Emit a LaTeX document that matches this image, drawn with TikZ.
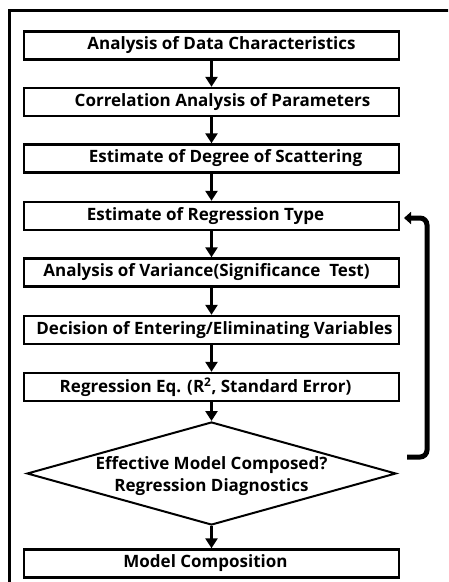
\documentclass[tikz,border=0pt]{standalone}
\usepackage{fontspec}
\setmainfont{Open Sans}
\usetikzlibrary{shapes.geometric,arrows.meta}
\newcommand\nudge[2]{\hspace*{#1}#2\hspace*{-#1}}

\begin{document}
\begin{tikzpicture}[x=1pt, y=-1pt,
        font=\fontsize{17}{22}\selectfont\bfseries,
        stepbox/.style={draw, line width=2.4pt, minimum width=375pt,
            minimum height=28pt, inner sep=0pt},
        decision/.style={draw, diamond, line width=2pt, minimum width=369pt,
            minimum height=103pt, inner sep=0pt},
        flow/.style={line width=3pt, -{Triangle[width=12pt,length=10pt]}},
        back/.style={line width=5pt, rounded corners=7pt,
            -{Triangle[width=12pt,length=7pt]}}]
        \useasboundingbox (0,0) rectangle (448,582);
        \clip (0,0) rectangle (448,582);
        \fill[white] (0,0) rectangle (448,582);
        % outer frame, cut off at right and bottom
        \draw[line width=3pt] (9,600) -- (9,10) -- (470,10);

        \node[stepbox] (data) at (211.5,45.5) {\nudge{10pt}{Analysis of Data Characteristics}};
        \node[stepbox] (corr) at (211.5,102) {\nudge{11pt}{Correlation Analysis of Parameters}};
        \node[stepbox] (scat) at (211.5,158.5) {\nudge{14pt}{Estimate of Degree of Scattering}};
        \node[stepbox] (type) at (211.5,216) {\nudge{-6pt}{Estimate of Regression Type}};
        \node[stepbox] (anova) at (211.5,272.5) {\nudge{-5pt}{Analysis of Variance(Significance~~Test)}};
        \node[stepbox] (vars) at (211.5,330) {\nudge{3pt}{Decision of Entering/Eliminating Variables}};
        \node[stepbox] (eq) at (211.5,387) {\nudge{-6pt}{Regression Eq. (R\textsuperscript{2}, Standard Error)}};
        \node[decision] (diag) at (211.5,473.5) {};
        \node[align=center] (diagtxt) at (211.5,476) {Effective Model Composed?\\Regression Diagnostics};
        \node[stepbox] (model) at (211.5,563.5) {\nudge{-6pt}{Model Composition}};

        \draw[flow] (data) -- (corr);
        \draw[flow] (corr) -- (scat);
        \draw[flow] (scat) -- (type);
        \draw[flow] (type) -- (anova);
        \draw[flow] (anova) -- (vars);
        \draw[flow] (vars) -- (eq);
        \draw[flow] (eq) -- (diag);
        \draw[flow] (diag) -- (model);

        % loop back to the regression type
        \coordinate (backin) at (407,457);
        \coordinate (backcorner) at (427,457);
        \coordinate (backout) at (404,218);
        \draw[back] (backin) -- (backcorner) |- (backout);
    \end{tikzpicture}
\end{document}
